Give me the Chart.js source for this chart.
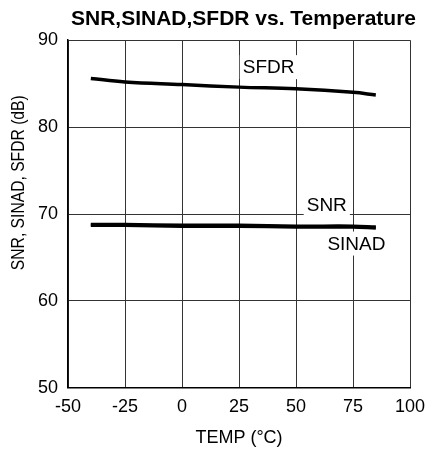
<!DOCTYPE html>
<html>
<head>
<meta charset="utf-8">
<script src="https://cdn.jsdelivr.net/npm/chart.js@4.4.1/dist/chart.umd.min.js"></script>
<style>
  html, body { margin: 0; padding: 0; background: #fff; }
  #wrap { width: 425px; height: 449px; }
</style>
</head>
<body>
<div id="wrap"><canvas id="chart" width="425" height="449"></canvas></div>
<script>
  // Temperature points (°C)
  const temps = [-40, -25, 0, 25, 50, 75, 85];
  // Series values (dB)
  const sfdr = [85.6, 85.2, 84.9, 84.6, 84.4, 84.0, 83.7];
  const snr = [68.8, 68.8, 68.7, 68.7, 68.6, 68.6, 68.5];
  const sinad = [68.7, 68.7, 68.6, 68.6, 68.5, 68.5, 68.4];

  const xTicks = [-50, -25, 0, 25, 50, 75, 100];
  const yTicks = [50, 60, 70, 80, 90];

  // In-plot labels: text, temperature, dB
  const seriesLabels = [
    { text: 'SFDR', x: 38, y: 86.9 },
    { text: 'SNR', x: 63.5, y: 71.1 },
    { text: 'SINAD', x: 76.5, y: 66.6 }
  ];

  const yTitle = 'SNR, SINAD, SFDR (dB)';

  const FONT = '"Liberation Sans", Arial, sans-serif';

  function toPoints(values) {
    return temps.map(function(t, i) { return { x: t, y: values[i] }; });
  }

  const labelPlugin = {
    id: 'seriesLabels',
    afterDatasetsDraw: function(chart) {
      const ctx = chart.ctx;
      const xs = chart.scales.x;
      const ys = chart.scales.y;
      ctx.save();
      ctx.font = '19px ' + FONT;
      ctx.textAlign = 'center';
      ctx.textBaseline = 'middle';
      seriesLabels.forEach(function(l) {
        const px = xs.getPixelForValue(l.x);
        const py = ys.getPixelForValue(l.y);
        const w = ctx.measureText(l.text).width + 6;
        ctx.fillStyle = '#fff';
        ctx.fillRect(px - w / 2, py - 12, w, 24);
        ctx.fillStyle = '#000';
        ctx.fillText(l.text, px, py + 1);
      });

      // y axis title, set a bit above the plot's middle and tighter as in the original
      const ca = chart.chartArea;
      ctx.translate(19, ca.top + (ca.bottom - ca.top) * 0.41);
      ctx.rotate(-Math.PI / 2);
      ctx.scale(0.87, 1);
      ctx.font = '18px ' + FONT;
      ctx.fillText(yTitle, 0, 0);
      ctx.restore();
    }
  };

  function lineSet(values, width) {
    return {
      data: toPoints(values),
      borderColor: '#000',
      borderWidth: width,
      pointRadius: 0,
      tension: 0.4,
      fill: false
    };
  }

  new Chart(document.getElementById('chart'), {
    type: 'line',
    data: {
      datasets: [lineSet(sfdr, 3.5), lineSet(snr, 3.5), lineSet(sinad, 3.5)]
    },
    options: {
      responsive: false,
      animation: false,
      layout: { padding: { top: 0, right: 9, bottom: 0, left: 28 } },
      plugins: {
        legend: { display: false },
        tooltip: { enabled: false },
        title: {
          display: true,
          text: 'SNR,SINAD,SFDR vs. Temperature',
          color: '#000',
          align: 'end',
          font: { family: FONT, size: 21, weight: 'bold' },
          padding: { top: 7, bottom: 8 }
        }
      },
      scales: {
        x: {
          type: 'linear',
          min: -50,
          max: 100,
          afterBuildTicks: function(axis) {
            axis.ticks = xTicks.map(function(v) { return { value: v }; });
          },
          afterFit: function(axis) {
            // room for the "100" label at the right end
            axis.paddingRight = 15;
          },
          grid: { color: '#333', lineWidth: 1, drawTicks: false },
          border: { color: '#000', width: 1.5 },
          ticks: {
            color: '#000',
            padding: 8,
            maxRotation: 0,
            font: { family: FONT, size: 18 }
          },
          title: {
            display: true,
            text: 'TEMP (°C)',
            color: '#000',
            font: { family: FONT, size: 18 },
            padding: { top: 2, bottom: 0 }
          }
        },
        y: {
          min: 50,
          max: 90,
          afterBuildTicks: function(axis) {
            axis.ticks = yTicks.map(function(v) { return { value: v }; });
          },
          grid: { color: '#333', lineWidth: 1, drawTicks: false },
          border: { color: '#000', width: 1.5 },
          ticks: {
            color: '#000',
            padding: 10,
            font: { family: FONT, size: 18 }
          }
        }
      }
    },
    plugins: [labelPlugin]
  });
</script>
</body>
</html>
